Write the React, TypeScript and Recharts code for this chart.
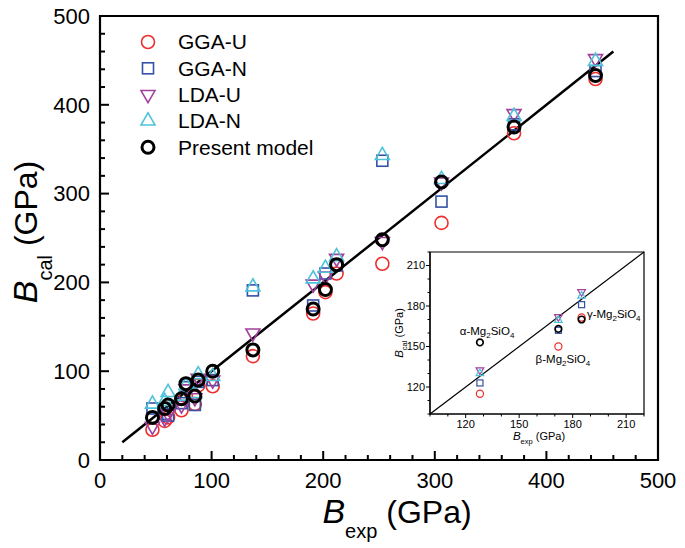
import React from 'react';
import {
  ScatterChart,
  Scatter,
  XAxis,
  YAxis,
  ReferenceLine,
  ReferenceArea,
  ReferenceDot,
  Legend,
} from 'recharts';

const FONT = '"Liberation Sans", Arial, Helvetica, sans-serif';

// main panel: experimental vs calculated bulk modulus (GPa), one entry per compound
const bExp = [47, 58, 61, 73, 77, 85, 88, 101, 137, 191, 202, 212, 253, 306, 371, 444];
const ggaU = [34, 44, 48, 56, 72, 63, 84, 83, 117, 165, 189, 210, 221, 267, 368, 429];
const ggaN = [58, 52, 50, 64, 82, 62, 88, 90, 191, 174, 210, 219, 337, 291, 378, 438];
const ldaU = [38, 47, 52, 62, 80, 70, 92, 90, 143, 198, 207, 227, 246, 313, 390, 452];
const ldaN = [63, 66, 76, 72, 84, 75, 96, 94, 195, 204, 216, 229, 343, 316, 387, 449];
const present = [48, 58, 62, 69, 86, 72, 90, 100, 124, 170, 192, 220, 248, 313, 375, 433];

// y = x guide line ends
const fitLine = [20, 460];

// inset: Mg2SiO4 polymorphs
const insetPhases = ['α', 'β', 'γ'];
const insetExp = [128, 172, 185];
const insetGgaU = [115, 150, 171.5];
const insetGgaN = [123, 162, 181];
const insetLdaU = [132.5, 172, 190.5];
const insetLdaN = [130, 169.5, 187.5];
const insetPresent = [153, 163, 170];

const mainMajor = [0, 100, 200, 300, 400, 500];
const insetMajor = [120, 150, 180, 210];

const mainTicks = Array.from({ length: 26 }, (_, i) => i * 20);
const insetTicks = Array.from({ length: 13 }, (_, i) => 100 + i * 10);

// label anchors in inset data space
const insetNotes = [
  { phase: 0, x: 132, y: 158.5, anchor: 'middle' },
  { phase: 1, x: 174.5, y: 138, anchor: 'middle' },
  { phase: 2, x: 188, y: 171, anchor: 'start' },
];

const pts = (xs: number[], ys: number[]) => xs.map((x, i) => ({ x, y: ys[i] }));

type Kind = 'circle' | 'square' | 'down' | 'up' | 'bold';

const COLORS: Record<Kind, string> = {
  circle: '#ee2d2d',
  square: '#3451a6',
  down: '#a2409c',
  up: '#4cc3d9',
  bold: '#000',
};

const drawMarker = (kind: Kind, cx: number, cy: number, k: number) => {
  const c = COLORS[kind];
  const sw = kind === 'bold' ? 3 * k : 1.6 * Math.max(k, 0.75);
  if (kind === 'circle') return <circle cx={cx} cy={cy} r={6.5 * k} fill="none" stroke={c} strokeWidth={sw} />;
  if (kind === 'bold') return <circle cx={cx} cy={cy} r={6 * k} fill="none" stroke={c} strokeWidth={sw} />;
  if (kind === 'square') {
    const s = 11 * k;
    return <rect x={cx - s / 2} y={cy - s / 2} width={s} height={s} fill="none" stroke={c} strokeWidth={sw} />;
  }
  const s = 14 * k;
  const h = s * 0.866;
  const d =
    kind === 'up'
      ? `M${cx},${cy - (2 * h) / 3} L${cx + s / 2},${cy + h / 3} L${cx - s / 2},${cy + h / 3} Z`
      : `M${cx},${cy + (2 * h) / 3} L${cx + s / 2},${cy - h / 3} L${cx - s / 2},${cy - h / 3} Z`;
  return <path d={d} fill="none" stroke={c} strokeWidth={sw} strokeLinejoin="miter" />;
};

const shapeOf = (kind: Kind, k: number) => (props: any) => {
  const { cx, cy } = props;
  if (cx == null || cy == null) return <g />;
  return drawMarker(kind, cx, cy, k);
};

const mainSeries: { name: string; kind: Kind; ys: number[] }[] = [
  { name: 'GGA-U', kind: 'circle', ys: ggaU },
  { name: 'GGA-N', kind: 'square', ys: ggaN },
  { name: 'LDA-U', kind: 'down', ys: ldaU },
  { name: 'LDA-N', kind: 'up', ys: ldaN },
  { name: 'Present model', kind: 'bold', ys: present },
];

const insetSeries: { name: string; kind: Kind; ys: number[] }[] = [
  { name: 'GGA-U', kind: 'circle', ys: insetGgaU },
  { name: 'GGA-N', kind: 'square', ys: insetGgaN },
  { name: 'LDA-U', kind: 'down', ys: insetLdaU },
  { name: 'LDA-N', kind: 'up', ys: insetLdaN },
  { name: 'Present model', kind: 'bold', ys: insetPresent },
];

const MainXTick = (props: any) => {
  const { x, y, payload } = props;
  const major = mainMajor.includes(payload.value);
  return (
    <g>
      <line x1={x} x2={x} y1={y} y2={y - (major ? 9 : 5)} stroke="#000" strokeWidth={2} />
      {major && (
        <text x={x} y={y + 28} textAnchor="middle" fontSize={22} fontFamily={FONT} fill="#000">
          {payload.value}
        </text>
      )}
    </g>
  );
};

const MainYTick = (props: any) => {
  const { x, y, payload } = props;
  const major = mainMajor.includes(payload.value);
  return (
    <g>
      <line x1={x} x2={x + (major ? 9 : 5)} y1={y} y2={y} stroke="#000" strokeWidth={2} />
      {major && (
        <text x={x - 10} y={y} dy="0.35em" textAnchor="end" fontSize={22} fontFamily={FONT} fill="#000">
          {payload.value}
        </text>
      )}
    </g>
  );
};

const InsetXTick = (props: any) => {
  const { x, y, payload } = props;
  const major = insetMajor.includes(payload.value);
  return (
    <g>
      <line x1={x} x2={x} y1={y} y2={y + (major ? 4 : 2.5)} stroke="#000" strokeWidth={1} />
      {major && (
        <text x={x} y={y + 13.5} textAnchor="middle" fontSize={11} fontFamily={FONT} fill="#000">
          {payload.value}
        </text>
      )}
    </g>
  );
};

const InsetYTick = (props: any) => {
  const { x, y, payload } = props;
  const major = insetMajor.includes(payload.value);
  return (
    <g>
      <line x1={x} x2={x - (major ? 4 : 2.5)} y1={y} y2={y} stroke="#000" strokeWidth={1} />
      {major && (
        <text x={x - 5} y={y} dy="0.35em" textAnchor="end" fontSize={11} fontFamily={FONT} fill="#000">
          {payload.value}
        </text>
      )}
    </g>
  );
};

const MainXLabel = (props: any) => {
  const vb = props.viewBox || { x: 100, y: 460, width: 558, height: 88 };
  return (
    <text x={vb.x + vb.width / 2 + 18} y={vb.y + 63} textAnchor="middle" fontFamily={FONT} fill="#000">
      <tspan fontSize={34} fontStyle="italic">B</tspan>
      <tspan fontSize={20} dy={15}>exp</tspan>
      <tspan fontSize={32} dy={-15}> (GPa)</tspan>
    </text>
  );
};

const MainYLabel = (props: any) => {
  const vb = props.viewBox || { x: 0, y: 16, width: 100, height: 444 };
  const x = vb.x + 37;
  const y = vb.y + vb.height / 2 - 6;
  return (
    <text x={x} y={y} transform={`rotate(-90, ${x}, ${y})`} textAnchor="middle" fontFamily={FONT} fill="#000">
      <tspan fontSize={34} fontStyle="italic">B</tspan>
      <tspan fontSize={20} dy={15}>cal</tspan>
      <tspan fontSize={32} dy={-15}> (GPa)</tspan>
    </text>
  );
};

const InsetXLabel = (props: any) => {
  const vb = props.viewBox || { x: 430, y: 414, width: 214, height: 36 };
  return (
    <text x={vb.x + vb.width / 2 + 2} y={vb.y + 26} textAnchor="middle" fontFamily={FONT} fill="#000">
      <tspan fontSize={11.5} fontStyle="italic">B</tspan>
      <tspan fontSize={7.5} dy={4}>exp</tspan>
      <tspan fontSize={11} dy={-4}> (GPa)</tspan>
    </text>
  );
};

const InsetYLabel = (props: any) => {
  const vb = props.viewBox || { x: 390, y: 252, width: 40, height: 162 };
  const x = vb.x + 13;
  const y = vb.y + vb.height / 2;
  return (
    <text x={x} y={y} transform={`rotate(-90, ${x}, ${y})`} textAnchor="middle" fontFamily={FONT} fill="#000">
      <tspan fontSize={11.5} fontStyle="italic">B</tspan>
      <tspan fontSize={7.5} dy={4}>cal</tspan>
      <tspan fontSize={11} dy={-4}> (GPa)</tspan>
    </text>
  );
};

const phaseLabel = (phase: string, anchor: string) => (props: any) => {
  const vb = props.viewBox || { x: 0, y: 0 };
  return (
    <text x={vb.x} y={vb.y} textAnchor={anchor} fontFamily={FONT} fontSize={11.5} fill="#000">
      {phase}-Mg
      <tspan fontSize={8} dy={3}>2</tspan>
      <tspan dy={-3}>SiO</tspan>
      <tspan fontSize={8} dy={3}>4</tspan>
    </text>
  );
};

const LegendBox = () => (
  <svg width={200} height={134} style={{ display: 'block' }}>
    {mainSeries.map((s, i) => (
      <g key={s.name}>
        {drawMarker(s.kind, 18, 14 + i * 26.3, 1)}
        <text x={48} y={14 + i * 26.3} dy="0.35em" fontSize={21} fontFamily={FONT} fill="#000">
          {s.name}
        </text>
      </g>
    ))}
  </svg>
);

export default function App() {
  return (
    <div style={{ position: 'absolute', left: 0, top: 0, width: 685, height: 548, background: '#fff', fontFamily: FONT }}>
      <ScatterChart width={685} height={548} margin={{ top: 16, right: 27, bottom: 0, left: 0 }}>
        <XAxis
          type="number"
          dataKey="x"
          domain={[0, 500]}
          ticks={mainTicks}
          interval={0}
          tickSize={0}
          tickMargin={0}
          tickLine={false}
          tick={<MainXTick />}
          axisLine={{ stroke: '#000', strokeWidth: 2 }}
          height={88}
          label={<MainXLabel />}
        />
        <YAxis
          type="number"
          dataKey="y"
          domain={[0, 500]}
          ticks={mainTicks}
          interval={0}
          tickSize={0}
          tickMargin={0}
          tickLine={false}
          tick={<MainYTick />}
          axisLine={{ stroke: '#000', strokeWidth: 2 }}
          width={100}
          label={<MainYLabel />}
        />
        <ReferenceArea x1={0} x2={500} y1={0} y2={500} fill="none" fillOpacity={0} stroke="#000" strokeWidth={2.2} />
        <ReferenceLine
          segment={[
            { x: fitLine[0], y: fitLine[0] },
            { x: fitLine[1], y: fitLine[1] },
          ]}
          stroke="#000"
          strokeWidth={2.5}
        />
        {mainSeries.map((s) => (
          <Scatter
            key={s.name}
            name={s.name}
            data={pts(bExp, s.ys)}
            shape={shapeOf(s.kind, 1)}
            isAnimationActive={false}
          />
        ))}
        <Legend
          layout="horizontal"
          verticalAlign="middle"
          align="center"
          content={<LegendBox />}
          wrapperStyle={{ left: 130, top: 28, width: 200, height: 134 }}
        />
      </ScatterChart>

      <div style={{ position: 'absolute', left: 380, top: 230 }}>
        <ScatterChart width={285} height={220} margin={{ top: 22, right: 21, bottom: 0, left: 10 }}>
          <XAxis
            type="number"
            dataKey="x"
            domain={[100, 220]}
            ticks={insetTicks}
            interval={0}
            tickSize={0}
            tickMargin={0}
            tickLine={false}
            tick={<InsetXTick />}
            axisLine={{ stroke: '#000', strokeWidth: 1.2 }}
            height={36}
            label={<InsetXLabel />}
          />
          <YAxis
            type="number"
            dataKey="y"
            domain={[100, 220]}
            ticks={insetTicks}
            interval={0}
            tickSize={0}
            tickMargin={0}
            tickLine={false}
            tick={<InsetYTick />}
            axisLine={{ stroke: '#000', strokeWidth: 1.2 }}
            width={40}
            label={<InsetYLabel />}
          />
          <ReferenceArea x1={100} x2={220} y1={100} y2={220} fill="#fff" fillOpacity={0} stroke="#000" strokeWidth={1.2} />
          <ReferenceLine
            segment={[
              { x: 100, y: 100 },
              { x: 220, y: 220 },
            ]}
            stroke="#000"
            strokeWidth={1.2}
          />
          {insetSeries.map((s) => (
            <Scatter
              key={s.name}
              name={s.name}
              data={pts(insetExp, s.ys)}
              shape={shapeOf(s.kind, 0.55)}
              isAnimationActive={false}
            />
          ))}
          {insetNotes.map((n) => (
            <ReferenceDot
              key={n.phase}
              x={n.x}
              y={n.y}
              r={0}
              fill="none"
              stroke="none"
              label={phaseLabel(insetPhases[n.phase], n.anchor)}
            />
          ))}
        </ScatterChart>
      </div>
    </div>
  );
}
